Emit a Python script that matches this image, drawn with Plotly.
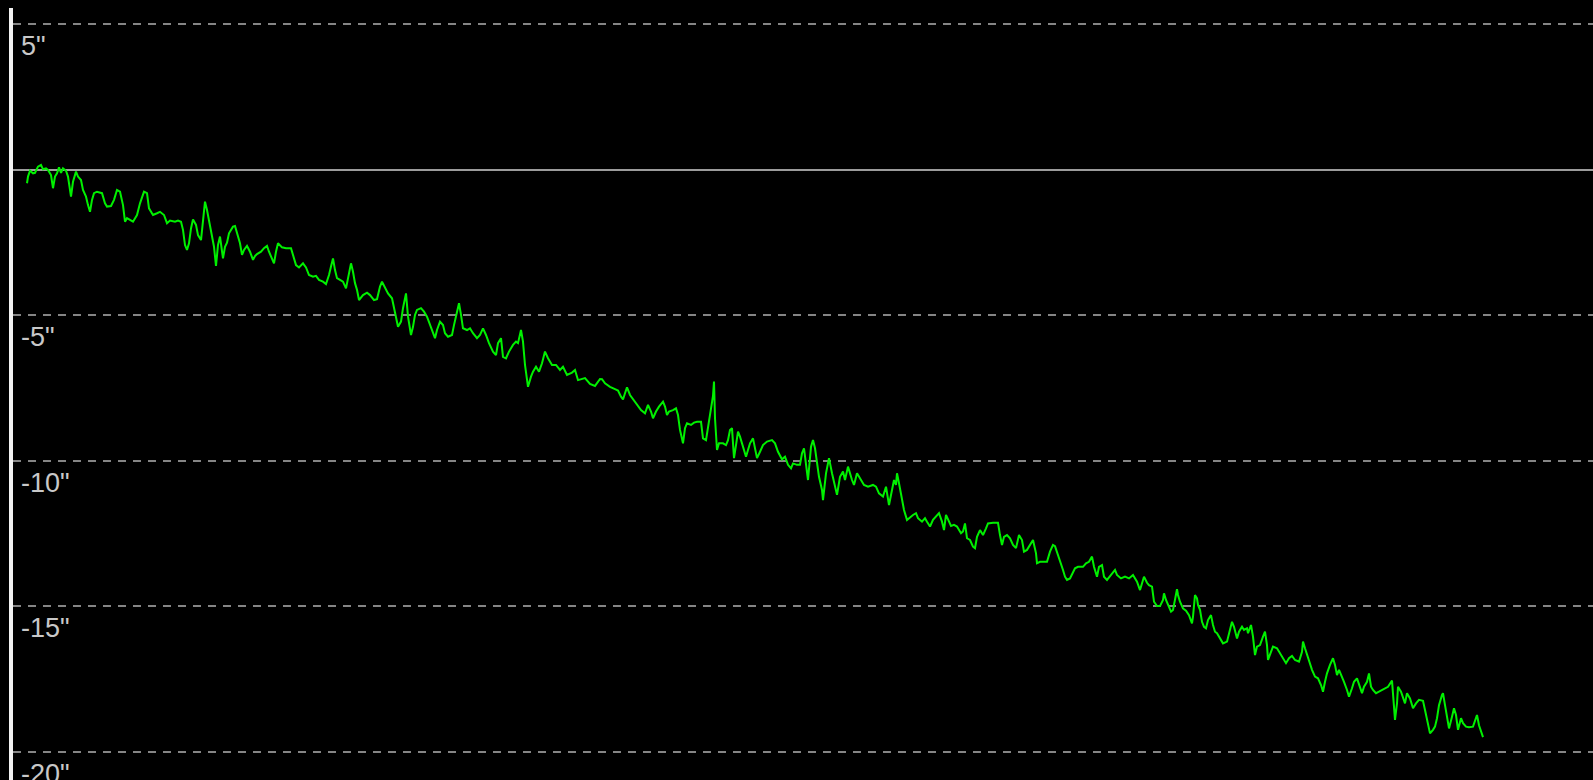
import plotly.graph_objects as go

# Sample time (arbitrary units) and deviation in arcseconds
t = [
    0, 1, 3, 6, 8, 11, 14, 16, 19, 21, 24, 26, 28, 30, 32, 34, 36, 39, 41, 44,
    46, 49, 51, 54, 56, 59, 61, 63, 65, 67, 70, 75, 78, 80, 84, 87, 90, 93, 96, 98,
    100, 103, 106, 110, 113, 117, 120, 122, 126, 130, 133, 137, 140, 143, 148, 151, 154, 156, 158, 160,
    162, 164, 166, 169, 171, 174, 176, 178, 180, 182, 185, 187, 189, 191, 193, 196, 198, 200, 202, 206,
    208, 210, 213, 215, 217, 220, 223, 226, 228, 230, 234, 237, 240, 242, 245, 247, 249, 251, 255, 259,
    264, 266, 269, 272, 276, 279, 282, 286, 289, 292, 296, 299, 302, 304, 306, 308, 310, 313, 316, 319,
    321, 324, 326, 328, 330, 332, 336, 340, 343, 347, 350, 353, 355, 358, 361, 365, 367, 370, 371, 374,
    376, 379, 381, 384, 386, 388, 390, 394, 397, 400, 403, 406, 408, 410, 413, 416, 418, 421, 425, 427,
    430, 432, 434, 436, 440, 443, 446, 450, 453, 456, 459, 462, 466, 469, 471, 474, 476, 479, 482, 486,
    489, 491, 494, 496, 498, 500, 501, 504, 506, 509, 512, 515, 518, 521, 525, 529, 533, 536, 540, 545,
    548, 551, 558, 563, 568, 573, 575, 578, 583, 588, 591, 594, 596, 598, 600, 603, 606, 610, 614, 618,
    621, 624, 626, 629, 632, 636, 638, 640, 642, 646, 649, 651, 653, 656, 658, 660, 664, 667, 670, 674,
    676, 679, 681, 684, 686, 687, 688, 690, 692, 696, 699, 701, 703, 705, 707, 709, 711, 713, 716, 719,
    721, 723, 726, 728, 730, 733, 736, 740, 745, 748, 751, 755, 758, 761, 764, 766, 770, 773, 775, 777,
    779, 781, 784, 786, 788, 790, 792, 795, 796, 799, 802, 805, 808, 810, 813, 816, 818, 821, 825, 827,
    830, 833, 837, 841, 846, 849, 852, 856, 859, 862, 865, 867, 869, 870, 872, 875, 877, 880, 882, 886,
    889, 891, 895, 898, 900, 903, 906, 910, 912, 915, 917, 919, 921, 924, 927, 930, 934, 936, 938, 940,
    943, 946, 948, 950, 953, 956, 959, 961, 966, 971, 973, 975, 977, 980, 983, 986, 989, 990, 992, 995,
    997, 1000, 1003, 1006, 1009, 1010, 1013, 1016, 1020, 1023, 1026, 1028, 1030, 1033, 1036, 1038, 1040, 1043, 1046, 1048,
    1051, 1056, 1059, 1062, 1065, 1067, 1070, 1072, 1075, 1077, 1080, 1085, 1088, 1090, 1094, 1098, 1102, 1106, 1110, 1113,
    1115, 1117, 1120, 1122, 1125, 1127, 1130, 1133, 1136, 1137, 1139, 1141, 1144, 1146, 1148, 1150, 1151, 1153, 1156, 1159,
    1162, 1165, 1166, 1168, 1170, 1171, 1173, 1175, 1177, 1179, 1181, 1184, 1186, 1188, 1190, 1193, 1196, 1200, 1202, 1205,
    1207, 1210, 1212, 1215, 1217, 1220, 1221, 1224, 1226, 1228, 1230, 1233, 1236, 1238, 1240, 1241, 1244, 1246, 1250, 1253,
    1256, 1259, 1262, 1265, 1268, 1272, 1275, 1276, 1278, 1280, 1282, 1285, 1288, 1291, 1294, 1296, 1298, 1300, 1303, 1306,
    1308, 1310, 1312, 1315, 1317, 1320, 1322, 1325, 1327, 1330, 1332, 1335, 1337, 1340, 1342, 1344, 1346, 1349, 1352, 1358,
    1361, 1365, 1366, 1368, 1370, 1371, 1374, 1376, 1378, 1380, 1383, 1386, 1389, 1392, 1396, 1398, 1400, 1403, 1406, 1408,
    1410, 1412, 1415, 1416, 1418, 1420, 1422, 1425, 1427, 1429, 1431, 1434, 1436, 1439, 1442, 1446, 1448, 1450, 1452, 1455,
    1456,
]

deviation = [
    -0.47, -0.24, -0.04, -0.13, -0.11, 0.10, 0.16, 0.01, 0.04, -0.01, -0.19, -0.64, -0.24, -0.13, 0.08, -0.11, 0.04, -0.04, -0.24, -0.93,
    -0.42, -0.07, -0.24, -0.36, -0.70, -0.93, -1.22, -1.45, -1.04, -0.81, -0.76, -0.81, -1.16, -1.27, -1.25, -1.04, -0.70, -0.76, -1.22, -1.79,
    -1.67, -1.73, -1.79, -1.56, -1.16, -0.76, -0.81, -1.33, -1.56, -1.50, -1.45, -1.56, -1.84, -1.75, -1.79, -1.75, -1.79, -2.07, -2.59, -2.76,
    -2.53, -2.02, -1.71, -1.90, -2.25, -2.42, -1.79, -1.10, -1.39, -1.79, -2.25, -2.65, -3.31, -2.59, -2.30, -3.05, -2.65, -2.51, -2.19, -1.96,
    -1.94, -2.19, -2.53, -2.93, -2.76, -2.62, -2.82, -3.10, -2.97, -2.90, -2.82, -2.70, -2.62, -2.82, -3.10, -3.22, -2.82, -2.53, -2.67, -2.70,
    -2.70, -2.93, -3.28, -3.36, -3.22, -3.36, -3.62, -3.68, -3.65, -3.79, -3.85, -3.93, -3.62, -3.33, -3.05, -3.45, -3.73, -3.79, -3.85, -4.08,
    -3.68, -3.22, -3.51, -3.90, -4.13, -4.48, -4.31, -4.23, -4.31, -4.48, -4.45, -4.02, -3.85, -4.08, -4.25, -4.42, -4.76, -5.16, -5.40, -5.22,
    -4.76, -4.25, -5.05, -5.68, -5.40, -4.99, -4.82, -4.76, -4.88, -5.05, -5.34, -5.62, -5.79, -5.51, -5.22, -5.34, -5.62, -5.74, -5.68, -5.34,
    -4.88, -4.59, -4.99, -5.45, -5.51, -5.45, -5.62, -5.79, -5.68, -5.45, -5.68, -5.96, -6.25, -6.37, -5.96, -5.79, -6.43, -6.48, -6.25, -6.02,
    -5.91, -5.96, -5.51, -5.91, -6.71, -7.11, -7.46, -7.11, -6.94, -6.77, -6.94, -6.65, -6.25, -6.48, -6.71, -6.71, -6.88, -6.77, -7.05, -6.97,
    -6.88, -7.23, -7.16, -7.36, -7.43, -7.19, -7.20, -7.34, -7.46, -7.54, -7.59, -7.80, -7.89, -7.68, -7.48, -7.74, -7.89, -8.08, -8.26, -8.37,
    -8.08, -8.31, -8.54, -8.31, -8.14, -7.97, -8.14, -8.43, -8.31, -8.26, -8.20, -8.43, -8.94, -9.40, -8.88, -8.71, -8.77, -8.69, -8.66, -8.66,
    -9.23, -9.29, -8.83, -8.26, -7.77, -7.28, -8.54, -9.63, -9.40, -9.40, -9.46, -9.29, -8.94, -8.88, -9.91, -9.46, -9.00, -9.17, -9.52, -9.86,
    -9.63, -9.40, -9.23, -9.57, -9.91, -9.69, -9.46, -9.34, -9.29, -9.40, -9.69, -9.95, -9.86, -10.14, -10.26, -10.09, -10.14, -10.14, -9.74, -9.57,
    -10.09, -10.66, -9.52, -9.29, -9.57, -10.03, -10.55, -11.00, -11.35, -10.43, -9.91, -10.43, -10.89, -11.17, -10.55, -10.37, -10.66, -10.20, -10.66, -10.83,
    -10.43, -10.60, -10.83, -10.89, -10.83, -10.89, -11.12, -11.23, -10.89, -11.52, -11.06, -10.66, -10.83, -10.43, -10.77, -11.29, -11.69, -12.03, -11.97, -11.86,
    -11.80, -11.97, -12.09, -11.97, -12.09, -12.26, -12.03, -11.86, -11.80, -12.09, -12.38, -11.86, -12.03, -12.24, -12.20, -12.26, -12.49, -12.43, -12.15, -12.66,
    -12.72, -12.95, -13.00, -12.61, -12.38, -12.55, -12.32, -12.15, -12.13, -12.13, -12.55, -12.89, -12.61, -12.55, -12.66, -12.89, -13.00, -12.83, -12.55, -12.72,
    -13.12, -13.06, -12.89, -12.72, -13.18, -13.52, -13.47, -13.47, -13.47, -13.12, -12.89, -12.93, -13.12, -13.41, -13.75, -13.98, -14.09, -14.04, -13.86, -13.69,
    -13.64, -13.64, -13.52, -13.47, -13.29, -13.64, -13.98, -13.64, -13.58, -13.98, -14.09, -13.86, -13.75, -13.92, -14.04, -13.98, -14.04, -13.92, -14.15, -14.44,
    -14.21, -13.98, -14.19, -14.27, -14.32, -14.84, -14.99, -14.99, -14.78, -14.55, -14.78, -14.95, -15.18, -15.12, -14.72, -14.41, -14.61, -14.84, -15.07, -15.15,
    -15.30, -15.58, -15.35, -14.61, -14.72, -14.95, -15.12, -15.53, -15.70, -15.75, -15.47, -15.30, -15.64, -15.87, -15.92, -16.10, -16.27, -16.21, -15.92, -15.53,
    -15.70, -16.10, -15.87, -15.70, -15.81, -15.75, -15.92, -15.64, -16.04, -16.67, -16.38, -16.33, -16.04, -15.87, -16.33, -16.84, -16.56, -16.38, -16.44, -16.61,
    -16.78, -16.95, -16.78, -16.70, -16.84, -16.90, -16.56, -16.21, -16.44, -16.67, -16.90, -17.18, -17.41, -17.47, -17.70, -17.93, -17.59, -17.30, -17.01, -16.78,
    -17.01, -17.36, -17.18, -17.41, -17.59, -17.87, -18.10, -17.81, -17.59, -17.47, -17.70, -17.98, -17.76, -17.59, -17.30, -17.76, -17.87, -17.98, -17.93, -17.81,
    -17.76, -17.55, -18.10, -18.90, -18.33, -17.76, -17.93, -18.10, -18.33, -17.98, -18.16, -18.50, -18.33, -18.21, -18.24, -18.56, -18.90, -19.36, -19.24, -19.13,
    -18.84, -18.39, -18.04, -17.98, -18.39, -18.73, -19.19, -18.79, -18.50, -18.73, -19.24, -18.84, -19.01, -19.13, -19.15, -19.13, -18.96, -18.73, -19.08, -19.36,
    -19.49,
]

tick_values = [5, -5, -10, -15, -20]
tick_labels = ['5"', '-5"', '-10"', '-15"', '-20"']

fig = go.Figure()
fig.add_trace(go.Scatter(
    x=t, y=deviation, mode="lines",
    line=dict(color="#00f000", width=2),
    hoverinfo="skip", showlegend=False,
))

# Labels sit just below their grid lines, hugging the left axis
for val, lab in zip(tick_values, tick_labels):
    fig.add_annotation(
        x=0, xref="paper", xanchor="left", xshift=6,
        y=val, yref="y", yanchor="middle", yshift=-22,
        text=lab, showarrow=False,
        font=dict(family="Liberation Sans, Arial, sans-serif", size=27, color="#c8c8c8"),
    )

fig.update_layout(
    width=1593, height=780,
    margin=dict(l=13, r=0, t=8, b=0),
    paper_bgcolor="#000000", plot_bgcolor="#000000",
    xaxis=dict(
        range=[-14, 1566], showgrid=False, zeroline=False,
        showticklabels=False, showline=False, ticks="",
    ),
    yaxis=dict(
        range=[-20.962, 5.549],
        tickvals=tick_values, showticklabels=False, ticks="",
        showgrid=True, gridcolor="#858585", gridwidth=2, griddash="8px,7px",
        zeroline=True, zerolinecolor="#9c9c9c", zerolinewidth=2,
        showline=True, linecolor="#f2f2f2", linewidth=4,
    ),
)

fig.write_html("out.html")
